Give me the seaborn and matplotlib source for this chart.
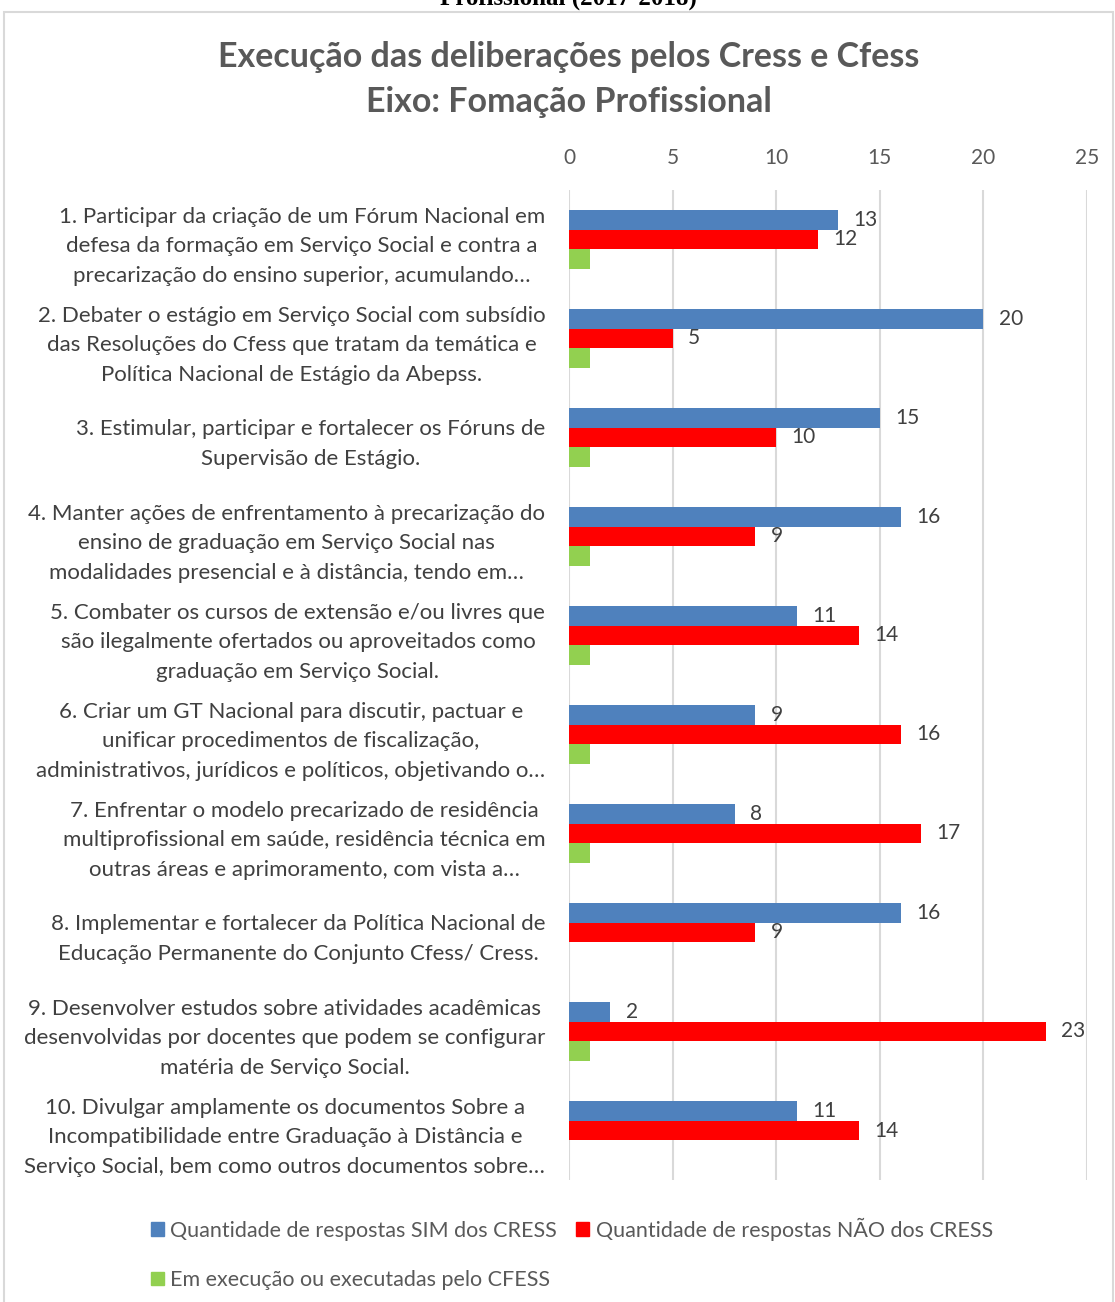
import pandas as pd
import numpy as np
import matplotlib
matplotlib.use("Agg")
import matplotlib.pyplot as plt
import seaborn as sns
from matplotlib.patches import Rectangle

# --- dados ---
itens = [
    "1. Participar da criação de um Fórum Nacional em\ndefesa da formação em Serviço Social e contra a\nprecarização do ensino superior, acumulando…",
    "2. Debater o estágio em Serviço Social com subsídio\ndas Resoluções do Cfess que tratam da temática e\nPolítica Nacional de Estágio da Abepss.",
    "3. Estimular, participar e fortalecer os Fóruns de\nSupervisão de Estágio.",
    "4. Manter ações de enfrentamento à precarização do\nensino de graduação em Serviço Social nas\nmodalidades presencial e à distância, tendo em…",
    "5. Combater os cursos de extensão e/ou livres que\nsão ilegalmente ofertados ou aproveitados como\ngraduação em Serviço Social.",
    "6. Criar um GT Nacional para discutir, pactuar e\nunificar procedimentos de fiscalização,\nadministrativos, jurídicos e políticos, objetivando o…",
    "7. Enfrentar o modelo precarizado de residência\nmultiprofissional em saúde, residência técnica em\noutras áreas e aprimoramento, com vista a…",
    "8. Implementar e fortalecer da Política Nacional de\nEducação Permanente do Conjunto Cfess/ Cress.",
    "9. Desenvolver estudos sobre atividades acadêmicas\ndesenvolvidas por docentes que podem se configurar\nmatéria de Serviço Social.",
    "10. Divulgar amplamente os documentos Sobre a\nIncompatibilidade entre Graduação à Distância e\nServiço Social, bem como outros documentos sobre…",
]
sim_cress = [13, 20, 15, 16, 11, 9, 8, 16, 2, 11]
nao_cress = [12, 5, 10, 9, 14, 16, 17, 9, 23, 14]
cfess = [1, 1, 1, 1, 1, 1, 1, 0, 1, 0]

series = [
    "Quantidade de respostas SIM dos CRESS",
    "Quantidade de respostas NÃO dos CRESS",
    "Em execução ou executadas pelo CFESS",
]
cores = ["#4f81bd", "#ff0000", "#92d050"]

df = pd.DataFrame({
    "item": itens * 3,
    "serie": [series[0]] * 10 + [series[1]] * 10 + [series[2]] * 10,
    "valor": sim_cress + nao_cress + cfess,
})

# --- grafico ---
sns.set_theme(style="white")
plt.rcParams["font.family"] = ["Lato", "DejaVu Sans"]

fig = plt.figure(figsize=(11.15, 13.02), dpi=100)
ax = fig.add_axes([0.5103, 0.0937, 0.4646, 0.7604])

sns.barplot(data=df, y="item", x="valor", hue="serie", palette=cores,
            orient="h", width=0.6, linewidth=0, saturation=1, ax=ax, legend=False)

for c in ax.containers[:2]:
    ax.bar_label(c, padding=11, fontsize=15, color="#404040")

ax.set_xlim(0, 25)
ax.set_xticks([0, 5, 10, 15, 20, 25])
ax.xaxis.tick_top()
ax.tick_params(axis="x", length=0, pad=16, labelsize=15, labelcolor="#595959")
ax.tick_params(axis="y", length=0, pad=17, labelsize=16, labelcolor="#404040")
for t in ax.get_yticklabels():
    t.set_multialignment("center")
    t.set_linespacing(1.6)
ax.set_xlabel("")
ax.set_ylabel("")
ax.grid(axis="x", color="#d9d9d9", linewidth=1.5)
ax.set_axisbelow(True)
for s in ax.spines.values():
    s.set_visible(False)

fig.text(0.51, 0.939, "Execução das deliberações pelos Cress e Cfess\nEixo: Fomação Profissional",
         ha="center", va="center", fontsize=24.5, fontweight="bold", color="#595959",
         linespacing=1.5)

# texto cortado do documento original
fig.text(0.51, 1 - 5 / 1302, "Profissional (2017-2018)", ha="center", va="baseline",
         fontsize=18, fontweight="bold", family="Liberation Serif", color="black")

# borda do grafico
fig.patches.append(Rectangle((4 / 1115, -0.01), 1109 / 1115, 1.01 - 12 / 1302,
                             transform=fig.transFigure, fill=False,
                             edgecolor="#d9d9d9", linewidth=1.5))

handles = [Rectangle((0, 0), 1, 1, color=c) for c in cores]
order = [0, 2, 1]
fig.legend([handles[i] for i in order], [series[i] for i in order],
           loc="center", bbox_to_anchor=(0.513, 0.037), ncol=2, frameon=False,
           fontsize=15.5, labelcolor="#595959", handlelength=0.6, handleheight=0.6,
           handletextpad=0.3, columnspacing=0.9, labelspacing=1.35)

fig.savefig("out.png", dpi=100)
